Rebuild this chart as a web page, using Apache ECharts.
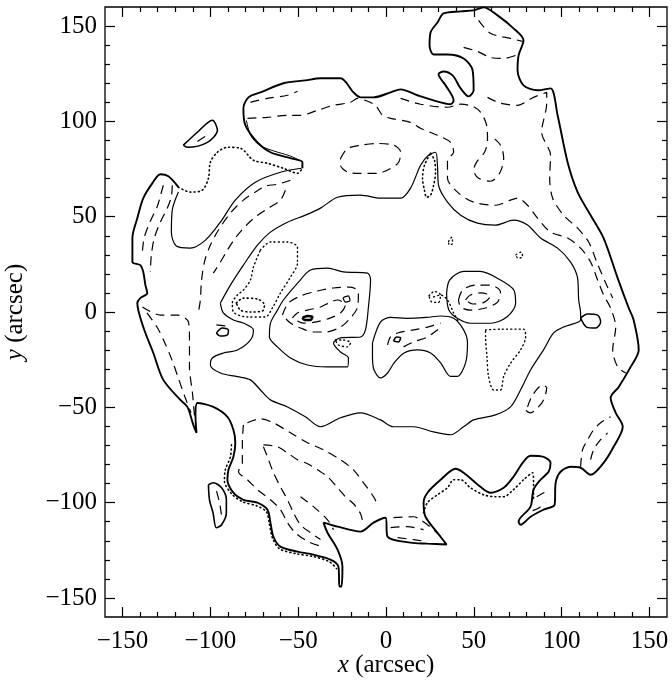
<!DOCTYPE html>
<html><head><meta charset="utf-8">
<script src="https://cdn.jsdelivr.net/npm/echarts/dist/echarts.min.js"></script>
<style>html,body{margin:0;padding:0;background:#fff}#c{width:672px;height:682px}</style>
</head><body><div id="c"></div>
<script>
// ---- axis ticks ----
const xTickLabels = [-150,-100,-50,0,50,100,150];
const yTickLabels = [-150,-100,-50,0,50,100,150];

// ---- contour data (arcsec) ----
const outerSolid = [[-47.6,75.4],[-47.6,78.6],[-54.4,80.7],[-65.8,83.8],[-73.2,89.0],[-80.1,98.0],[-81.2,106.9],[-78.3,112.6],[-71.5,115.2],[-58.4,120.0],[-45.9,121.5],[-37.3,122.6],[-25.9,122.6],[-18.5,115.2],[-14.5,112.6],[-7.1,112.6],[2.6,115.2],[8.3,116.8],[17.9,113.7],[27.1,111.0],[36.8,109.0],[38.5,111.0],[33.9,118.9],[29.9,124.7],[32.8,126.2],[37.9,124.1],[42.5,117.3],[47.0,113.1],[49.9,116.3],[49.3,126.8],[44.2,133.0],[35.0,135.1],[27.1,135.1],[24.8,139.9],[25.4,146.7],[29.3,151.9],[32.8,156.6],[42.5,157.7],[49.9,158.2],[55.6,159.8],[63.5,155.6],[72.6,148.8],[78.3,142.5],[75.5,134.6],[74.9,126.8],[78.3,118.9],[86.3,116.3],[93.7,117.3],[97.7,103.2],[103.4,78.6],[109.1,62.9],[116.5,50.8],[123.9,38.8],[131.9,17.8],[138.2,2.1],[141.0,-4.2],[143.9,-19.9],[139.3,-28.8],[132.5,-39.3],[127.9,-45.0],[130.8,-52.9],[134.8,-60.2],[129.6,-70.7],[123.9,-79.1],[116.5,-85.4],[110.8,-81.7],[105.1,-81.2],[99.4,-83.8],[96.6,-89.6],[96.0,-101.1],[89.7,-103.7],[82.3,-107.4],[76.6,-111.6],[75.5,-110.0],[82.3,-102.1],[84.0,-93.2],[88.0,-88.0],[92.6,-83.8],[93.7,-79.1],[89.7,-76.0],[82.3,-75.4],[77.8,-79.1],[72.6,-86.4],[67.0,-92.2],[59.5,-94.8],[53.8,-91.7],[44.2,-84.3],[39.6,-82.2],[31.1,-88.0],[23.6,-94.8],[21.4,-100.0],[22.5,-107.4],[29.3,-115.8],[34.5,-122.0],[23.6,-121.5],[14.0,-121.0],[0.9,-117.9],[-0.3,-107.9],[-7.1,-110.5],[-14.5,-115.2],[-27.6,-112.6],[-35.6,-110.5],[-33.3,-115.8],[-27.6,-124.7],[-24.8,-133.6],[-25.4,-144.0],[-26.5,-144.0],[-27.1,-133.6],[-31.6,-129.9],[-41.3,-127.3],[-50.4,-125.7],[-60.1,-123.1],[-64.1,-117.9],[-65.8,-110.5],[-67.5,-103.7],[-73.2,-100.0],[-81.2,-98.5],[-86.9,-94.8],[-90.3,-88.0],[-89.7,-82.8],[-86.9,-76.0],[-85.8,-68.6],[-86.9,-61.8],[-90.3,-55.0],[-98.3,-49.8],[-107.4,-47.7],[-108.5,-53.9],[-107.9,-63.4],[-109.7,-59.2],[-113.1,-49.8],[-117.1,-46.1],[-126.8,-35.6],[-132.5,-21.5],[-138.2,-7.9],[-141.6,4.7],[-139.9,7.3],[-135.9,10.0],[-137.0,14.1],[-138.2,21.0],[-139.9,24.6],[-144.4,26.2],[-144.4,38.8],[-141.6,49.2],[-138.2,59.7],[-133.0,67.6],[-128.5,72.3],[-123.9,71.2],[-118.2,65.5]];
const gapDotted = [[-118.2,65.5],[-111.4,62.9],[-104.6,63.9],[-101.1,70.2],[-100.0,78.6],[-96.0,83.8],[-90.3,86.4],[-82.9,85.9],[-75.5,79.6],[-67.5,78.0],[-58.4,75.4],[-50.4,72.8],[-47.6,75.4]];
const capInner = [[-79.5,100.5],[-77.0,92.5],[-72.0,87.5],[-64.0,84.5],[-55.0,82.0],[-49.0,79.5]];
const islandNW = [[-115.4,87.5],[-107.4,94.3],[-98.9,100.6],[-96.0,95.3],[-101.7,89.0],[-113.1,86.4],[-115.4,87.5]];
const islandNWDash = [[-107.4,89.5],[-100.5,93.5]];
const islandSW = [[-101.1,-90.6],[-98.3,-89.6],[-93.6,-92.2],[-90.9,-98.5],[-90.9,-105.5],[-93.6,-111.6],[-96.6,-113.2],[-98.5,-105.3],[-100.5,-98.5],[-101.1,-90.6]];
const islandSWDash = [[-96.5,-94],[-94.8,-100],[-93.6,-107]];
const ring = [[-94.3,4.7],[-92.6,-0.5],[-86.9,-4.2],[-81.2,-5.8],[-75.5,-9.4],[-77.2,-14.7],[-84.6,-19.9],[-92.6,-21.5],[-98.9,-24.1],[-100.0,-27.8],[-94.3,-32.0],[-84.6,-33.9],[-77.2,-35.6],[-71.5,-40.9],[-65.8,-46.1],[-56.1,-49.8],[-45.9,-55.0],[-37.3,-60.2],[-25.9,-55.5],[-14.5,-52.9],[-3.1,-56.6],[4.3,-60.2],[15.7,-60.2],[27.1,-62.9],[36.8,-64.4],[44.2,-60.2],[49.9,-56.6],[62.4,-54.0],[70.9,-49.8],[76.6,-40.9],[82.3,-30.4],[89.7,-19.9],[95.4,-11.0],[101.1,-7.9],[110.8,-4.2],[110.8,-0.5],[109.7,6.3],[109.1,17.8],[105.1,26.2],[97.7,33.5],[88.0,38.8],[80.6,45.6],[72.6,48.2],[62.4,45.6],[52.1,46.6],[42.5,50.8],[35.0,57.6],[29.9,66.5],[29.3,77.0],[28.2,83.8],[24.2,82.2],[19.7,77.0],[14.0,65.0],[8.3,59.7],[-3.1,59.7],[-14.5,61.3],[-27.6,60.2],[-37.3,54.5],[-45.9,50.8],[-56.1,47.1],[-65.8,41.9],[-73.2,35.1],[-81.2,24.6],[-88.6,14.1],[-94.3,4.7]];
const ringKnot = [[110.8,-3.1],[114.8,-1.0],[120.5,-1.6],[122.2,-5.2],[119.4,-8.4],[114.2,-7.9],[110.8,-3.1]];
const armLine = [[-118.2,62.9],[-121.7,53.4],[-122.2,41.9],[-119.4,34.6],[-111.4,33.5],[-102.8,37.7],[-94.3,47.1],[-85.8,58.7],[-74.4,68.1],[-60.1,73.3],[-48.1,75.4]];
const blobL = [[-48.7,16.8],[-43.0,22.0],[-33.3,23.0],[-24.2,21.0],[-10.5,20.4],[-8.8,16.8],[-10.0,2.6],[-11.7,-9.4],[-14.5,-13.1],[-25.9,-13.6],[-29.9,-16.2],[-25.9,-21.0],[-21.4,-24.1],[-21.9,-28.8],[-33.3,-28.8],[-44.7,-27.8],[-54.4,-24.1],[-61.8,-18.3],[-66.4,-13.1],[-65.8,-5.8],[-61.8,1.0],[-58.4,6.3],[-48.7,16.8]];
const blobLDash1 = [[-59.0,-1.6],[-55.6,4.7],[-48.7,8.4],[-39.0,11.0],[-29.9,12.6],[-20.2,13.1],[-15.7,10.5],[-16.2,2.6],[-20.2,-3.1],[-25.9,-7.9],[-34.5,-10.5],[-41.3,-10.5],[-48.7,-8.4],[-54.4,-5.8],[-59.0,-1.6]];
const blobLDash2 = [[-53.3,-3.1],[-50.4,-0.5],[-44.7,1.0],[-37.3,2.6],[-31.6,5.2],[-27.6,6.3],[-23.1,3.7],[-25.9,-0.5],[-31.6,-3.1],[-39.6,-5.2],[-47.0,-5.8],[-53.3,-3.1]];
const blobLCore = [[-47.6,-3.1],[-44.7,-2.1],[-41.9,-2.6],[-43.0,-4.2],[-46.4,-4.2],[-47.6,-3.1]];
const blobLMark = [[-24.5,7.5],[-21.5,8.5],[-20.5,6.0],[-23.0,5.2],[-24.5,7.5]];
const blobLDot = [[-28.8,-14.7],[-24.2,-14.7],[-20.2,-16.2],[-21.9,-18.3],[-27.1,-17.3],[-28.8,-14.7]];
const blobM = [[-7.7,-16.2],[-3.1,-5.2],[2.6,-2.8],[11.9,-3.3],[23.1,-2.8],[31.1,-2.1],[38.5,-3.3],[44.2,-9.4],[46.4,-16.2],[45.3,-26.7],[40.7,-33.8],[36.8,-33.8],[31.1,-26.7],[25.4,-21.5],[17.9,-19.9],[10.3,-21.5],[4.6,-26.7],[0.9,-32.0],[-3.1,-34.6],[-6.9,-30.2],[-7.7,-23.2],[-7.7,-16.2]];
const blobMDashA = [[0.9,-17.3],[2.6,-13.1],[6.6,-11.0],[15.7,-9.4],[23.6,-7.9],[31.1,-5.8]];
const blobMDashB = [[10.0,-18.3],[15.7,-15.7],[23.6,-13.1],[29.3,-9.4],[32.2,-7.9]];
const blobMCore = [[4.3,-15.2],[6.0,-13.1],[8.3,-13.6],[7.1,-15.7],[4.3,-15.2]];
const blobR = [[34.5,9.6],[36.3,16.8],[44.2,21.3],[53.6,21.3],[65.2,16.8],[72.8,11.5],[73.8,4.5],[69.0,-2.5],[59.5,-5.9],[48.1,-5.9],[40.6,-3.3],[35.8,1.0],[34.5,9.6]];
const blobRDash1 = [[41.3,6.3],[43.6,11.5],[51.0,14.1],[59.5,14.1],[65.2,10.5],[63.5,5.2],[56.7,2.1],[48.1,1.0],[42.5,2.6],[41.3,6.3]];
const blobRDash2 = [[45.3,6.3],[48.1,8.9],[53.8,10.0],[59.5,8.4],[56.1,5.2],[49.3,4.2],[45.3,6.3]];
const blobRDot1 = [[24.5,8.5],[27.5,10.8],[31.0,9.0],[29.9,5.0],[26.0,5.3],[24.5,8.5]];
const blobRDot2 = [[27.1,7.9],[31.1,8.9],[35.0,6.3],[38.5,-0.5],[41.3,-5.2]];
const tinyDotA = [[35.6,37.0],[37.5,39.3],[37.9,36.0],[36.0,35.1],[35.6,37.0]];
const tinyDotB = [[74.0,30.0],[77.0,31.4],[77.8,29.0],[75.0,28.3],[74.0,30.0]];
const dotLoopE = [[56.7,-9.4],[65.2,-9.0],[78.3,-9.0],[79.5,-13.1],[76.6,-19.9],[70.9,-26.9],[67.0,-33.8],[65.2,-40.9],[61.3,-40.9],[58.4,-33.8],[57.5,-23.4],[56.7,-13.1],[56.7,-9.4]];
const dotLoopW = [[-71.5,32.5],[-65.8,36.7],[-56.1,36.7],[-50.4,34.0],[-50.4,25.7],[-54.4,18.3],[-60.1,10.0],[-64.7,2.1],[-68.7,-2.6],[-78.9,-2.6],[-86.9,0],[-87.5,4.7],[-84.6,8.9],[-81.2,11.5],[-77.2,16.8],[-75.5,23.6],[-71.5,32.5]];
const dotLoopW2 = [[-85.2,4.7],[-81.2,7.3],[-73.2,6.8],[-69.2,3.7],[-70.4,0.5],[-77.2,0],[-82.9,1.0],[-85.2,4.7]];
const knotW = [[-96.6,-11.0],[-93.2,-8.4],[-89.7,-9.4],[-90.3,-12.0],[-94.3,-12.6],[-96.6,-11.0]];
const knotWDash = [[-96.6,-6.8],[-91.5,-7.3]];
const spikeDotted = [[25.4,83.3],[27.6,79.6],[28.2,73.3],[27.1,66.5],[25.4,61.3],[23.1,60.2],[21.9,63.9],[20.8,70.2],[21.9,77.0],[25.4,83.3]];
const ellipseN = [[-25.9,80.5],[-22.1,85.7],[-14.5,87.5],[-5.0,88.4],[4.4,87.5],[8.3,84.0],[7.3,78.7],[2.6,75.3],[-5.0,72.7],[-14.5,72.7],[-22.1,73.5],[-25.9,77.0],[-25.9,80.5]];
const dashNW1 = [[-54.4,69.1],[-61.8,67.0],[-68.7,66.0],[-74.4,62.9],[-81.2,58.7],[-88.6,51.9],[-95.4,43.0],[-100.0,35.1],[-103.4,26.2],[-105.1,15.7],[-105.7,6.3],[-106.8,0]];
const dashNW2 = [[-57.3,63.9],[-60.1,58.7],[-66.9,54.5],[-73.8,50.3],[-80.1,45.0],[-85.8,38.8],[-90.3,32.5],[-94.3,26.2],[-98.3,20.4]];
const dashArm1 = [[-126.8,66.5],[-128.5,60.7],[-130.2,55.5],[-134.2,47.6],[-137.6,39.3],[-138.7,31.9]];
const dashArm2 = [[-121.7,66.5],[-122.2,60.7],[-124.5,54.5],[-128.5,47.1],[-131.9,38.8],[-133.6,29.9],[-134.2,21.0]];
const dashSW1 = [[-138.7,2.6],[-128.5,-1.6],[-118.8,-1.6],[-112.5,-5.2],[-111.9,-14.7],[-111.9,-28.8],[-110.2,-42.4],[-109.0,-55.0]];
const dashSW2 = [[-136.1,-0.5],[-130.4,-7.9],[-125.9,-16.2],[-121.9,-25.1],[-118.5,-34.0],[-114.5,-44.5],[-111.0,-52.9]];
const dashS1 = [[-78.9,-58.1],[-71.5,-56.0],[-64.1,-58.1],[-54.4,-63.4],[-44.7,-68.6],[-35.6,-72.3],[-25.9,-77.5],[-18.5,-82.8],[-12.8,-89.6],[-7.1,-96.9],[-4.3,-102.1]];
const dashS2 = [[-69.8,-69.7],[-61.8,-70.7],[-56.1,-73.9],[-50.4,-77.5],[-44.7,-79.6],[-39.0,-82.8],[-33.3,-86.4],[-27.6,-92.2],[-23.1,-96.9],[-18.5,-100.6],[-14.5,-105.8],[-13.4,-109.5]];
const dashS3 = [[-48.7,-96.9],[-41.3,-102.1],[-33.3,-109.0],[-29.9,-114.2]];
const dashS4 = [[-69.8,-70.7],[-67.5,-76.0],[-64.1,-84.3],[-60.1,-91.7],[-56.1,-98.5],[-52.7,-105.3],[-48.7,-111.6],[-43.0,-115.8],[-37.3,-119.4]];
const dashS5 = [[-81.2,-59.2],[-81.8,-68.6],[-81.8,-79.1],[-84.0,-83.8],[-78.9,-88.0],[-73.2,-93.2],[-65.8,-98.5],[-60.1,-103.7],[-56.1,-110.5],[-51.6,-115.8],[-44.2,-120.5],[-36.2,-123.1]];
const dashS6 = [[2.6,-113.1],[12.3,-112.6],[21.4,-114.2]];
const dashS7 = [[4.3,-107.9],[15.7,-107.4],[19.7,-109.0],[27.1,-114.2],[32.8,-119.4]];
const dashS8 = [[6.6,-118.4],[15.7,-119.4],[23.6,-120.5]];
const dotSW = [[-88.0,-69.7],[-88.6,-76.0],[-91.5,-82.8],[-92.0,-88.5],[-88.0,-95.3],[-81.8,-99.5],[-73.8,-101.6],[-68.1,-104.8],[-66.4,-111.1],[-64.7,-118.4],[-60.7,-124.2],[-51.0,-126.8],[-41.3,-128.3],[-32.2,-131.0],[-28.2,-134.6]];
const dotSE = [[21.4,-105.3],[23.6,-100.0],[29.3,-95.9],[35.0,-92.2],[38.5,-88.0],[42.5,-88.0],[48.1,-92.2],[55.6,-95.9],[62.4,-96.9],[67.0,-96.9],[72.6,-93.2],[78.3,-88.0],[83.5,-84.3],[84.0,-89.6],[84.0,-98.5]];
const dashLoopE = [[80.6,-49.8],[83.5,-43.5],[89.2,-38.3],[91.5,-39.8],[89.7,-46.1],[86.3,-50.3],[82.3,-52.9],[79.5,-51.3],[80.6,-49.8]];
const dashE1 = [[110.8,-81.2],[111.9,-72.3],[114.8,-67.0],[118.2,-61.8],[122.2,-58.1],[127.9,-55.0]];
const dashE2 = [[116.5,-77.5],[118.2,-72.3],[122.2,-67.0],[126.2,-63.4]];
const dashTail1 = [[83.5,-104.2],[87.5,-102.5],[90.9,-100.0]];
const dashTail2 = [[85.8,-96.9],[89.5,-95],[93.2,-93.2]];
const dashMain = [[-78.9,101.6],[-67.5,102.1],[-56.1,103.2],[-48.7,103.2],[-39.0,105.8],[-29.9,108.4],[-20.2,110.0],[-16.2,112.1],[-11.7,111.0],[-6.0,108.4],[-2.0,103.2],[2.6,101.6],[14.0,99.5],[19.7,96.4],[29.3,92.7],[36.8,89.0],[38.5,83.8],[35.0,79.6],[35.0,70.2],[40.7,62.9],[49.9,57.6],[62.4,56.0],[70.9,58.7],[74.9,59.7],[80.6,56.0],[86.3,49.2],[93.7,41.9],[103.4,38.8],[110.8,33.5],[116.5,26.2],[120.5,16.8],[123.9,8.9],[127.9,2.1],[130.8,-7.9],[129.1,-19.9],[131.9,-28.8],[136.5,-32.0]];
const dashCapTop = [[-77.2,110.0],[-67.5,112.1],[-56.1,113.7],[-50.4,115.8]];
const dashHook = [[8.3,112.1],[19.7,109.0],[35.0,107.4],[42.5,109.0],[49.3,107.9],[53.8,104.8],[57.3,98.0],[57.8,90.1],[56.1,83.8],[51.6,78.6],[49.9,74.4],[52.7,70.2],[59.5,68.6],[64.7,72.8],[67.0,80.7],[65.2,87.5],[59.5,92.7]];
const dashNE = [[57.8,112.6],[65.2,109.5],[74.9,108.4],[84.0,112.6],[91.5,115.2],[91.5,109.5],[88.6,94.3],[93.7,82.2],[93.2,70.2],[94.9,59.7],[101.1,50.8],[109.1,44.0],[115.4,36.7],[120.0,26.2],[125.1,15.2],[129.1,7.3]];
const dashTop1 = [[52.7,153.0],[59.5,146.2],[70.9,143.5],[77.8,142.0]];
const dashTop2 = [[44.2,138.8],[52.1,136.7],[59.5,133.5],[66.9,133.0],[73.8,134.6]];
const dashTongue = [[32.8,120.5],[36.8,115.2]];

// ---- styles ----
const DASH = [9, 6];
const DOT = [1, 3.2];
function mk(data, kind, width) {
  const type = kind === 'dash' ? DASH : (kind === 'dot' ? DOT : 'solid');
  return {
    type: 'line', data: data, xAxisIndex: 0, yAxisIndex: 0,
    showSymbol: false, symbol: 'none', clip: false, smooth: 0.3,
    silent: true, animation: false,
    lineStyle: { color: '#000', width: width || 1.2, type: type, cap: kind === 'dot' ? 'round' : 'butt' }
  };
}

const series = [
  mk(outerSolid, 'solid', 1.9), mk(gapDotted, 'dot', 1.6), mk(capInner, 'solid', 1.0),
  mk(islandNW, 'solid', 1.6), mk(islandNWDash, 'dash'),
  mk(islandSW, 'solid', 1.6), mk(islandSWDash, 'dash'),
  mk(ring, 'solid'), mk(ringKnot, 'solid', 1.5), mk(armLine, 'solid'),
  mk(blobL, 'solid'), mk(blobLDash1, 'dash'), mk(blobLDash2, 'dash'), mk(blobLCore, 'solid', 2.4), mk(blobLMark, 'solid'), mk(blobLDot, 'dot', 1.4),
  mk(blobM, 'solid'), mk(blobMDashA, 'dash'), mk(blobMDashB, 'dash'), mk(blobMCore, 'solid', 1.6),
  mk(blobR, 'solid'), mk(blobRDash1, 'dash'), mk(blobRDash2, 'dash'), mk(blobRDot1, 'dot', 1.4), mk(blobRDot2, 'dot', 1.4),
  mk(tinyDotA, 'dot', 1.3), mk(tinyDotB, 'dot', 1.3),
  mk(dotLoopE, 'dot', 1.4), mk(dotLoopW, 'dot', 1.4), mk(dotLoopW2, 'dot', 1.6),
  mk(knotW, 'solid', 1.5), mk(knotWDash, 'dash'), mk(spikeDotted, 'dot', 1.6), mk(ellipseN, 'dash'),
  mk(dashNW1, 'dash'), mk(dashNW2, 'dash'), mk(dashArm1, 'dash'), mk(dashArm2, 'dash'),
  mk(dashSW1, 'dash'), mk(dashSW2, 'dash'),
  mk(dashS1, 'dash'), mk(dashS2, 'dash'), mk(dashS3, 'dash'), mk(dashS4, 'dash'), mk(dashS5, 'dash'), mk(dashS6, 'dash'), mk(dashS7, 'dash'), mk(dashS8, 'dash'),
  mk(dotSW, 'dot', 1.6), mk(dotSE, 'dot', 1.6),
  mk(dashLoopE, 'dash'), mk(dashE1, 'dash'), mk(dashE2, 'dash'), mk(dashTail1, 'dash'), mk(dashTail2, 'dash'),
  mk(dashMain, 'dash'), mk(dashCapTop, 'dash'), mk(dashHook, 'dash'), mk(dashNE, 'dash'),
  mk(dashTop1, 'dash'), mk(dashTop2, 'dash'), mk(dashTongue, 'dash')
];

// ---- layout ----
const FRAME = { left: 105, right: 5, top: 7, bottom: 65 };
const UX = (672 - FRAME.left - FRAME.right) / 320;
const UY = (682 - FRAME.top - FRAME.bottom) / 320;
const PADX = 10 * UX, PADY = 10 * UY;
const FONT = 'Liberation Serif, Times New Roman, serif';
const fmt = v => (v < 0 ? '\u2212' + (-v) : String(v));

function axisCommon(extra) {
  return Object.assign({
    type: 'value', gridIndex: 0, min: xTickLabels[0], max: xTickLabels[xTickLabels.length - 1], interval: 50,
    axisLine: { show: false, onZero: false },
    axisTick: { show: true, inside: true, length: 10, lineStyle: { color: '#000', width: 1.2 } },
    minorTick: { show: true, splitNumber: 5, length: 5, lineStyle: { color: '#000', width: 1.2 } },
    splitLine: { show: false }, minorSplitLine: { show: false }
  }, extra);
}

const option = {
  backgroundColor: '#fff',
  animation: false,
  grid: [
    { left: FRAME.left + PADX, right: FRAME.right + PADX, top: FRAME.top + PADY, bottom: FRAME.bottom + PADY, show: false, containLabel: false, outerBoundsMode: 'none' },
    { left: FRAME.left, right: FRAME.right, top: FRAME.top, bottom: FRAME.bottom, show: true, borderColor: '#000', borderWidth: 1.3, backgroundColor: 'transparent', containLabel: false, outerBoundsMode: 'none' }
  ],
  xAxis: [
    axisCommon({ position: 'bottom', offset: PADY,
      axisLabel: { show: true, color: '#000', fontFamily: FONT, fontSize: 25, margin: 12, formatter: fmt },
      name: '{i|x} (arcsec)', nameLocation: 'middle', nameGap: 36, nameMoveOverlap: false,
      nameTextStyle: { color: '#000', fontFamily: FONT, fontSize: 25, rich: { i: { fontStyle: 'italic', fontFamily: FONT, fontSize: 25, color: '#000' } } } }),
    axisCommon({ position: 'top', offset: PADY, axisLabel: { show: false } }),
    { type: 'value', gridIndex: 1, min: -160, max: 160, show: false }
  ],
  yAxis: [
    axisCommon({ min: yTickLabels[0], max: yTickLabels[yTickLabels.length - 1], position: 'left', offset: PADX,
      axisLabel: { show: true, color: '#000', fontFamily: FONT, fontSize: 25, margin: 8, formatter: fmt },
      name: '{i|y} (arcsec)', nameLocation: 'middle', nameGap: 77, nameRotate: 90, nameMoveOverlap: false,
      nameTextStyle: { color: '#000', fontFamily: FONT, fontSize: 25, rich: { i: { fontStyle: 'italic', fontFamily: FONT, fontSize: 25, color: '#000' } } } }),
    axisCommon({ min: yTickLabels[0], max: yTickLabels[yTickLabels.length - 1], position: 'right', offset: PADX, axisLabel: { show: false } }),
    { type: 'value', gridIndex: 1, min: -160, max: 160, show: false }
  ],
  series: series
};

const chart = echarts.init(document.getElementById('c'), null, { renderer: 'canvas' });
chart.setOption(option);
</script>
</body></html>
